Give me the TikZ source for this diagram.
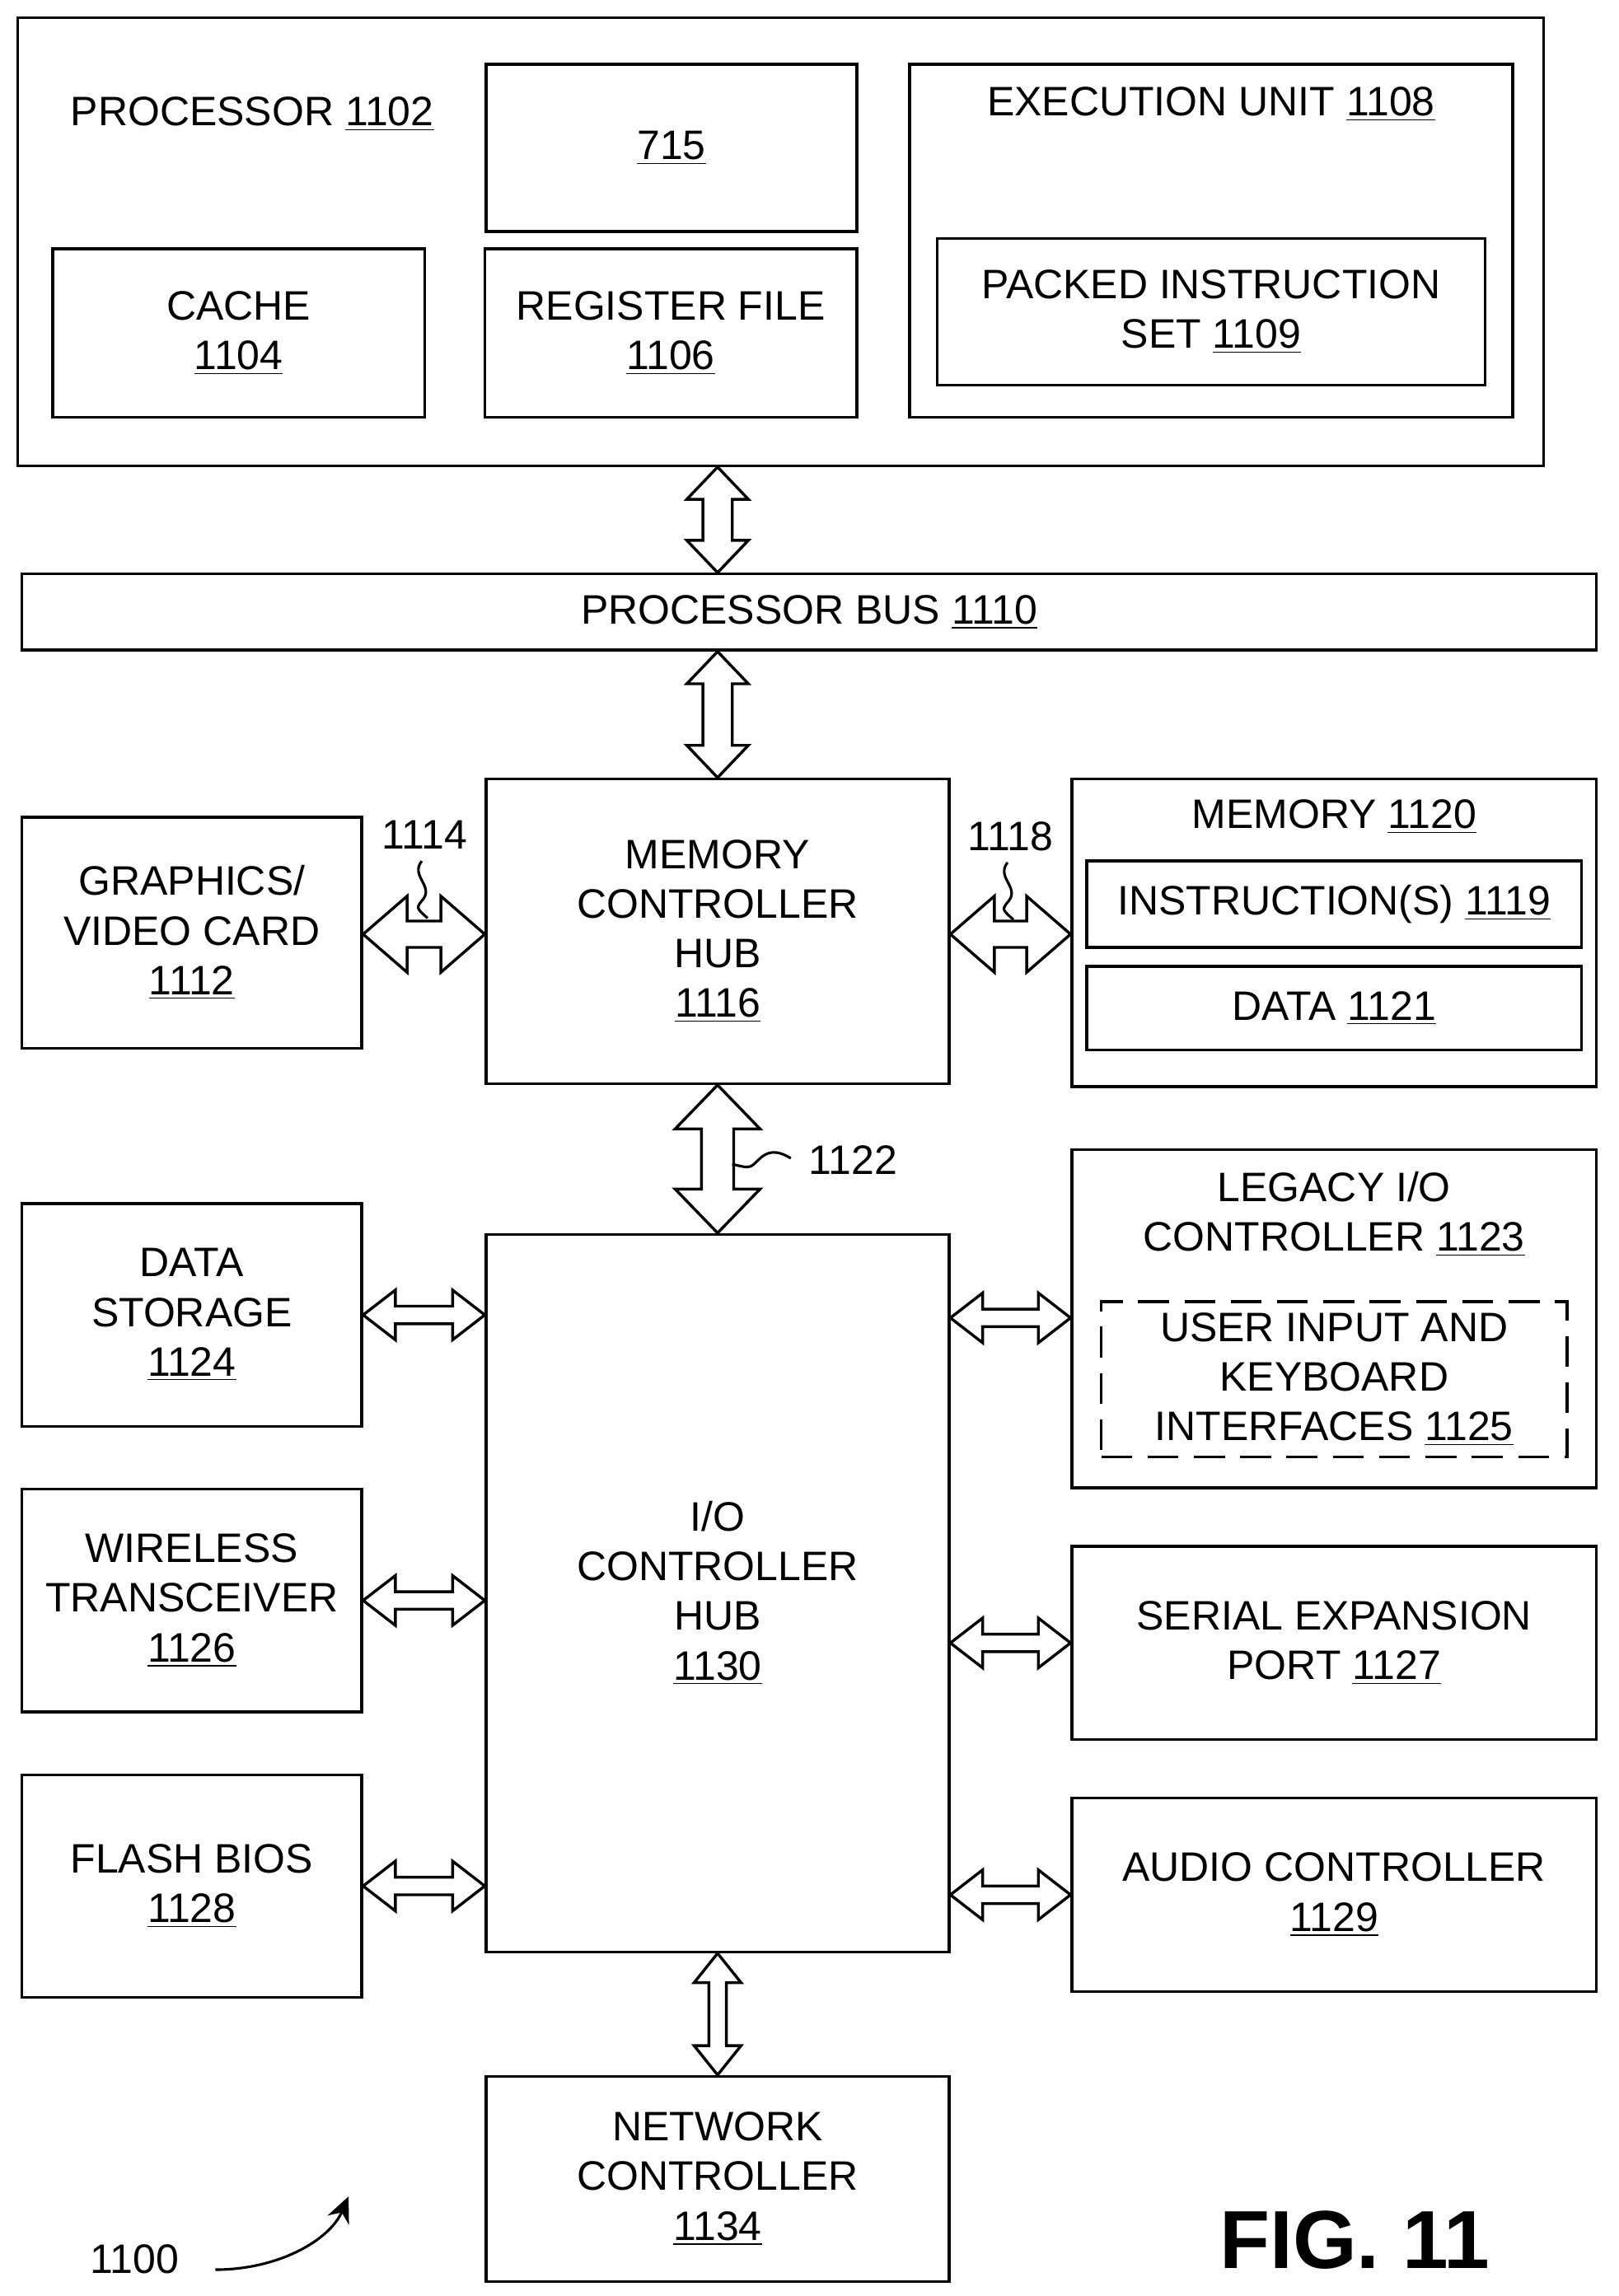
\documentclass[tikz,border=0pt]{standalone}
\usepackage{fontspec}
\setmainfont{Liberation Sans}
\usetikzlibrary{positioning,fit,calc,arrows.meta}
\newcommand\un[1]{\underline{#1}}
% vertical and horizontal hollow double arrows: from, to, shaft, head, head length
\newcommand\vfat[5]{\draw[fat] (#1) -- ($(#1)+(#4,#5)$) -- ($(#1)+(#3,#5)$) -- ($(#2)+(#3,-#5)$) -- ($(#2)+(#4,-#5)$) -- (#2)
  -- ($(#2)+(-#4,-#5)$) -- ($(#2)+(-#3,-#5)$) -- ($(#1)+(-#3,#5)$) -- ($(#1)+(-#4,#5)$) -- cycle;}
\newcommand\hfat[5]{\draw[fat] (#1) -- ($(#1)+(#5,#4)$) -- ($(#1)+(#5,#3)$) -- ($(#2)+(-#5,#3)$) -- ($(#2)+(-#5,#4)$) -- (#2)
  -- ($(#2)+(-#5,-#4)$) -- ($(#2)+(-#5,-#3)$) -- ($(#1)+(#5,-#3)$) -- ($(#1)+(#5,-#4)$) -- cycle;}
\tikzset{
  box/.style={draw, line width=1.1pt, inner sep=0pt},
  fat/.style={draw, fill=white, line width=1.1pt, line join=miter},
  txt/.style={align=center, inner sep=0pt},
  in/.style={label={[txt]center:#1}},
  every node/.style={font=\fontsize{16}{19.3}\selectfont},
  every label/.style={font=\fontsize{16}{19.3}\selectfont},
}
\begin{document}
\begin{tikzpicture}[x=0.02cm, y=-0.02cm]
\useasboundingbox (0,0) rectangle (1105,1568);
% processor
\node[box, fit={(12,12) (1054,318)}] (proc) {};
\node[txt, anchor=west] (proclbl) at (48,78) {PROCESSOR \un{1102}};
\node[box, fit={(332,44) (585,158)}, in={\un{715}}] (b715) {};
\node[box, fit={(36,170) (290,285)}, in={CACHE\\\un{1104}}] (cache) {};
\node[box, fit={(331,170) (585,285)}, in={REGISTER FILE\\\un{1106}}] (reg) {};
\node[box, fit={(621,44) (1033,285)}] (exec) {};
\node[txt] (execlbl) at (827,71) {EXECUTION UNIT \un{1108}};
\node[box, fit={(640,163) (1014,263)}, in={PACKED INSTRUCTION\\SET \un{1109}}] (packed) {};
% bus and hubs
\node[box, fit={(15,392) (1090,444)}, in={PROCESSOR BUS \un{1110}}] (bus) {};
\node[box, fit={(332,532) (648,740)}, in={MEMORY\\CONTROLLER\\HUB\\\un{1116}}] (mch) {};
\node[box, fit={(15,558) (247,716)}, in={GRAPHICS/\\VIDEO CARD\\\un{1112}}] (gfx) {};
\node[box, fit={(732,532) (1090,742)}] (mem) {};
\node[txt] (memlbl) at (911,558) {MEMORY \un{1120}};
\node[box, fit={(742,588) (1080,647)}, in={INSTRUCTION(S) \un{1119}}] (instr) {};
\node[box, fit={(742,660) (1080,717)}, in={DATA \un{1121}}] (data) {};
\node[box, fit={(332,843) (648,1333)}, in={I/O\\CONTROLLER\\HUB\\\un{1130}}] (ich) {};
\node[box, fit={(15,822) (247,974)}, in={DATA\\STORAGE\\\un{1124}}] (stor) {};
\node[box, fit={(15,1017) (247,1169)}, in={WIRELESS\\TRANSCEIVER\\\un{1126}}] (wless) {};
\node[box, fit={(15,1212) (247,1364)}, in={FLASH BIOS\\\un{1128}}] (bios) {};
\node[box, fit={(732,785) (1090,1016)}] (legacy) {};
\node[txt] (legacylbl) at (911,829) {LEGACY I/O\\CONTROLLER \un{1123}};
\node[box, dashed, dash pattern=on 12pt off 6pt, fit={(752,889) (1070,995)}, in={USER INPUT AND\\KEYBOARD\\INTERFACES \un{1125}}] (user) {};
\node[box, fit={(732,1056) (1090,1188)}, in={SERIAL EXPANSION\\PORT \un{1127}}] (serial) {};
\node[box, fit={(732,1228) (1090,1360)}, in={AUDIO CONTROLLER\\\un{1129}}] (audio) {};
\node[box, fit={(332,1418) (648,1558)}, in={NETWORK\\CONTROLLER\\\un{1134}}] (net) {};
% arrows
\vfat{proc.south -| mch.north}{bus.north -| mch.north}{10}{21}{22}
\vfat{bus.south -| mch.north}{mch.north}{10}{21}{22}
\vfat{mch.south}{ich.north}{11}{29}{30}
\hfat{gfx.east |- 0,638}{mch.west |- 0,638}{9}{26}{30}
\hfat{mch.east |- 0,638}{mem.west |- 0,638}{9}{26}{30}
\hfat{stor.east}{ich.west |- stor.east}{6}{17}{22}
\hfat{wless.east}{ich.west |- wless.east}{6}{17}{22}
\hfat{bios.east}{ich.west |- bios.east}{6}{17}{22}
\hfat{ich.east |- 0,900}{legacy.west |- 0,900}{6}{17}{22}
\hfat{ich.east |- serial.west}{serial.west}{6}{17}{22}
\hfat{ich.east |- audio.west}{audio.west}{6}{17}{22}
\vfat{ich.south}{net.north}{6}{16}{20}
% reference numerals
\node[txt] (n1114) at (290,570) {1114};
\draw[line width=1pt] (288,588) .. controls (280,598) and (296,605) .. (289,614) .. controls (284,620) .. (292,627);
\node[txt] (n1118) at (690,571) {1118};
\draw[line width=1pt] (688,589) .. controls (680,599) and (696,606) .. (689,615) .. controls (684,621) .. (692,628);
\node[txt, anchor=west] (n1122) at (552,792) {1122};
\draw[line width=1pt] (540,791) .. controls (530,785) and (524,786) .. (518,792) .. controls (512,798) .. (500,795);
\node[txt] (n1100) at (92,1543) {1100};
\coordinate (tip1100) at (238,1500);
\draw[line width=1pt, -{Stealth[length=10pt,width=9pt]}] (147,1550) .. controls (190,1550) and (225,1530) .. (tip1100);
\node[txt, font=\fontsize{32}{36}\bfseries] (fig) at (925,1530) {FIG. 11};
\end{tikzpicture}
\end{document}
